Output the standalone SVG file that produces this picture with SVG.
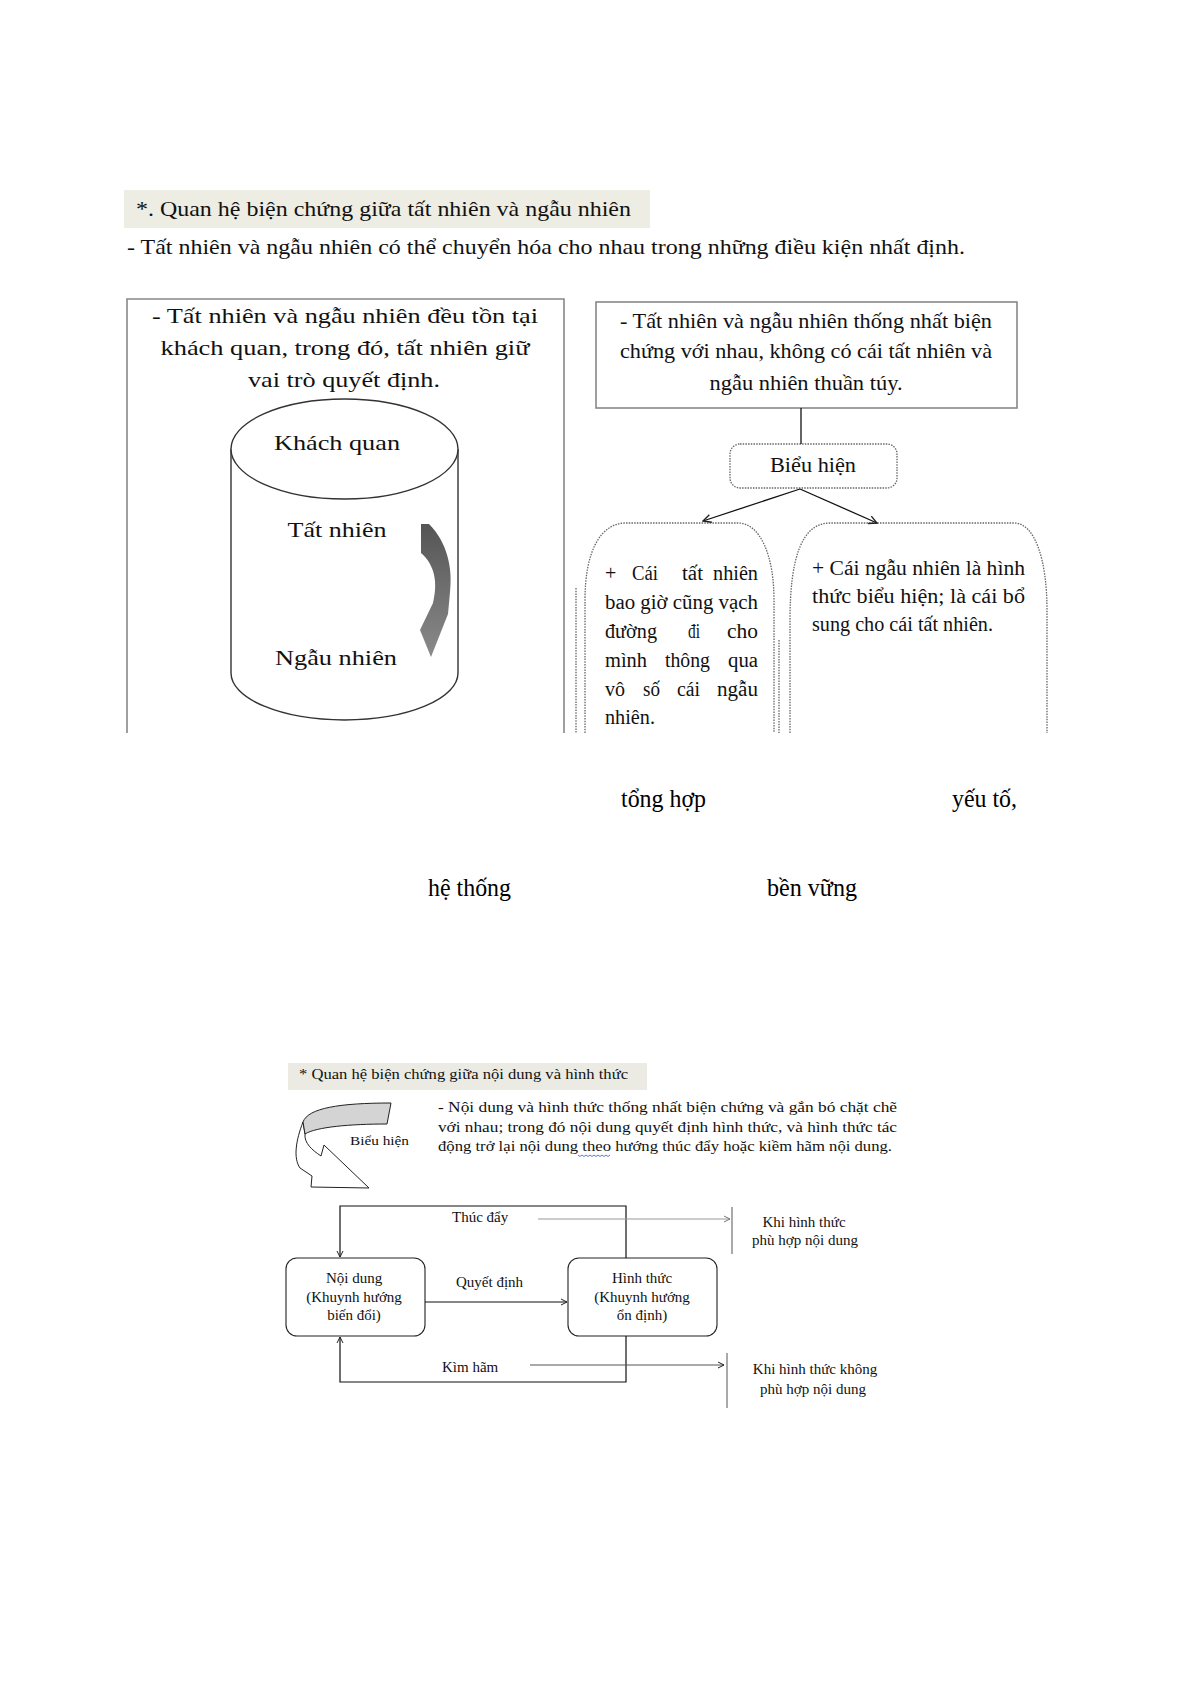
<svg xmlns="http://www.w3.org/2000/svg" width="1193" height="1685" viewBox="0 0 1193 1685">
<style>
  text { font-family: "Liberation Serif", "Times New Roman", serif; fill: #111; }
  .t21 { font-size: 21px; }
  .t22 { font-size: 22px; }
  .t20 { font-size: 20px; }
  .t24 { font-size: 25px; fill: #000; }
  .s15 { font-size: 15px; }
  .s14 { font-size: 14.5px; }
  .s13 { font-size: 13.5px; }
  .mid { text-anchor: middle; }
  .end { text-anchor: end; }
  .box { fill: #fff; stroke: #888; stroke-width: 1.6; }
  .dot { fill: none; stroke: #666; stroke-width: 1.3; stroke-dasharray: 1.5 1.2; }
  .ln { fill: none; stroke: #111; stroke-width: 1.3; }
  .rbox { fill: #fff; stroke: #222; stroke-width: 1.1; }
</style>
<defs>
  <marker id="ah" markerWidth="10" markerHeight="10" refX="9" refY="5" orient="auto" markerUnits="userSpaceOnUse">
    <path d="M1,1 L9,5 L1,9" fill="none" stroke="#222" stroke-width="1.4"/>
  </marker>
  <marker id="ahs" markerWidth="8" markerHeight="8" refX="7" refY="4" orient="auto" markerUnits="userSpaceOnUse">
    <path d="M1,1 L7,4 L1,7" fill="none" stroke="#222" stroke-width="1"/>
  </marker>
  <marker id="ahg" markerWidth="8" markerHeight="8" refX="7" refY="4" orient="auto" markerUnits="userSpaceOnUse">
    <path d="M1,1 L7,4 L1,7" fill="none" stroke="#777" stroke-width="1"/>
  </marker>
  <linearGradient id="curv" x1="0" y1="0" x2="0" y2="1">
    <stop offset="0" stop-color="#555"/>
    <stop offset="1" stop-color="#8a8a8a"/>
  </linearGradient>
</defs>
<rect width="1193" height="1685" fill="#fff"/>

<!-- Top header -->
<g id="header-top">
  <rect x="124" y="190" width="526" height="38" fill="#eeede4"/>
  <text class="t21" x="136" y="216" textLength="495" lengthAdjust="spacingAndGlyphs">*. Quan hệ biện chứng giữa tất nhiên và ngẫu nhiên</text>
  <text class="t21" x="127" y="254" textLength="838" lengthAdjust="spacingAndGlyphs">- Tất nhiên và ngẫu nhiên có thể chuyển hóa cho nhau trong những điều kiện nhất định.</text>
</g>

<!-- Left panel -->
<g id="left-panel">
  <path d="M127,733 L127,299 L564,299 L564,733" class="box"/>
  <text class="t22 mid" x="345" y="323" textLength="386" lengthAdjust="spacingAndGlyphs">- Tất nhiên và ngẫu nhiên đều tồn tại</text>
  <text class="t22 mid" x="345" y="355" textLength="369" lengthAdjust="spacingAndGlyphs">khách quan, trong đó, tất nhiên giữ</text>
  <text class="t22 mid" x="344" y="387" textLength="192" lengthAdjust="spacingAndGlyphs">vai trò quyết định.</text>
</g>

<g id="cylinder">
  <path d="M231,449 L231,673 A113.5,47 0 0 0 458,673 L458,449" fill="#fff" stroke="#333" stroke-width="1.4"/>
  <ellipse cx="344.5" cy="449" rx="113.5" ry="50" fill="#fff" stroke="#333" stroke-width="1.4"/>
  <text class="t22 mid" x="337" y="450" textLength="126" lengthAdjust="spacingAndGlyphs">Khách quan</text>
  <text class="t22 mid" x="337" y="537" textLength="99" lengthAdjust="spacingAndGlyphs">Tất nhiên</text>
  <text class="t22 mid" x="336" y="665" textLength="122" lengthAdjust="spacingAndGlyphs">Ngẫu nhiên</text>
  <path d="M421,524 L429,524 C447,542 453,568 450,592 L448,614 L431,657 L420,630 L433,603 C438,583 435,565 421,553 Z" fill="url(#curv)"/>
</g>

<!-- Right panel -->
<g id="right-top">
  <rect x="596" y="302" width="421" height="106" class="box"/>
  <text class="t22 mid" x="806" y="328" textLength="372" lengthAdjust="spacingAndGlyphs">- Tất nhiên và ngẫu nhiên thống nhất biện</text>
  <text class="t22 mid" x="806" y="358" textLength="372" lengthAdjust="spacingAndGlyphs">chứng với nhau, không có cái tất nhiên và</text>
  <text class="t22 mid" x="806" y="390" textLength="193" lengthAdjust="spacingAndGlyphs">ngẫu nhiên thuần túy.</text>
</g>

<g id="bieu-hien-top">
  <rect x="730" y="444" width="167" height="44" rx="10" class="dot"/>
  <text class="t22 mid" x="813" y="472" textLength="86" lengthAdjust="spacingAndGlyphs">Biểu hiện</text>
</g>

<g id="left-expr">
  <path d="M585,733 L585,600 C585,552 600,523 626,523 L738,523 C760,523 774,555 774,600 L774,733" class="dot"/>
  <path d="M576,588 L576,733" class="dot"/>
  <path d="M779,640 L779,733" class="dot"/>
  <text class="t20" x="605" y="580">+</text>
  <text class="t20" x="632" y="580" textLength="26" lengthAdjust="spacingAndGlyphs">Cái</text>
  <text class="t20" x="682" y="580" textLength="21" lengthAdjust="spacingAndGlyphs">tất</text>
  <text class="t20 end" x="758" y="580" textLength="45" lengthAdjust="spacingAndGlyphs">nhiên</text>
  <text class="t20" x="605" y="609" textLength="153" lengthAdjust="spacingAndGlyphs">bao giờ cũng vạch</text>
  <text class="t20" x="605" y="638" textLength="52" lengthAdjust="spacingAndGlyphs">đường</text>
  <text class="t20" x="688" y="638" textLength="12" lengthAdjust="spacingAndGlyphs">đi</text>
  <text class="t20 end" x="758" y="638" textLength="31" lengthAdjust="spacingAndGlyphs">cho</text>
  <text class="t20" x="605" y="667" textLength="42" lengthAdjust="spacingAndGlyphs">mình</text>
  <text class="t20" x="665" y="667" textLength="45" lengthAdjust="spacingAndGlyphs">thông</text>
  <text class="t20 end" x="758" y="667" textLength="30" lengthAdjust="spacingAndGlyphs">qua</text>
  <text class="t20" x="605" y="696" textLength="20" lengthAdjust="spacingAndGlyphs">vô</text>
  <text class="t20" x="643" y="696" textLength="17" lengthAdjust="spacingAndGlyphs">số</text>
  <text class="t20" x="677" y="696" textLength="23" lengthAdjust="spacingAndGlyphs">cái</text>
  <text class="t20 end" x="758" y="696" textLength="41" lengthAdjust="spacingAndGlyphs">ngẫu</text>
  <text class="t20" x="605" y="724" textLength="50" lengthAdjust="spacingAndGlyphs">nhiên.</text>
</g>

<g id="right-expr">
  <path d="M790,733 L790,620 C790,560 801,523 830,523 L1014,523 C1035,523 1047,560 1047,610 L1047,733" class="dot"/>
  <text class="t20" x="812" y="575" textLength="213" lengthAdjust="spacingAndGlyphs">+ Cái ngẫu nhiên là hình</text>
  <text class="t20" x="812" y="603" textLength="213" lengthAdjust="spacingAndGlyphs">thức biểu hiện; là cái bổ</text>
  <text class="t20" x="812" y="631" textLength="181" lengthAdjust="spacingAndGlyphs">sung cho cái tất nhiên.</text>
</g>

<!-- Middle words -->
<g id="middle-words">
  <text class="t24" x="621" y="807" textLength="85" lengthAdjust="spacingAndGlyphs">tổng hợp</text>
  <text class="t24" x="952" y="807" textLength="65" lengthAdjust="spacingAndGlyphs">yếu tố,</text>
  <text class="t24" x="428" y="896" textLength="83" lengthAdjust="spacingAndGlyphs">hệ thống</text>
  <text class="t24" x="767" y="896" textLength="90" lengthAdjust="spacingAndGlyphs">bền vững</text>
</g>

<!-- Bottom section -->
<g id="header-bottom">
  <rect x="288" y="1063" width="359" height="27" fill="#ecebe3"/>
  <text class="s14" x="299" y="1079" textLength="329" lengthAdjust="spacingAndGlyphs">* Quan hệ biện chứng giữa nội dung và hình thức</text>
</g>

<g id="paragraph">
  <text class="s14" x="438" y="1112" textLength="459" lengthAdjust="spacingAndGlyphs">- Nội dung và hình thức thống nhất biện chứng và gắn bó chặt chẽ</text>
  <text class="s14" x="438" y="1132" textLength="459" lengthAdjust="spacingAndGlyphs">với nhau; trong đó nội dung quyết định hình thức, và hình thức tác</text>
  <text class="s14" x="438" y="1151" textLength="454" lengthAdjust="spacingAndGlyphs">động trở lại nội dung theo hướng thúc đẩy hoặc kiềm hãm nội dung.</text>
  <path d="M578,1155 l2,1.5 l2,-1.5 l2,1.5 l2,-1.5 l2,1.5 l2,-1.5 l2,1.5 l2,-1.5 l2,1.5 l2,-1.5 l2,1.5 l2,-1.5 l2,1.5 l2,-1.5 l2,1.5 l2,-1.5" fill="none" stroke="#3355cc" stroke-width="0.8"/>
</g>

<g id="bieu-hien-arrow">
  <path d="M303,1122 C296,1140 293,1158 300,1168 L312,1176 L311,1187 L369,1188 L324,1145 L321,1156 C312,1150 304,1143 305,1134 Z" fill="#fff" stroke="#222" stroke-width="1"/>
  <path d="M303,1122 C308,1108 340,1103 391,1103 L387,1124 C350,1124 316,1127 305,1134 Z" fill="#d4d4d4" stroke="#222" stroke-width="1"/>
  <text class="s13" x="350" y="1145" textLength="59" lengthAdjust="spacingAndGlyphs">Biểu hiện</text>
</g>

<g id="noi-dung">
  <rect x="286" y="1258" width="139" height="78" rx="11" class="rbox"/>
  <text class="s15 mid" x="354" y="1283">Nội dung</text>
  <text class="s15 mid" x="354" y="1302">(Khuynh hướng</text>
  <text class="s15 mid" x="354" y="1320">biến đổi)</text>
</g>

<g id="hinh-thuc">
  <rect x="568" y="1258" width="149" height="78" rx="11" class="rbox"/>
  <text class="s15 mid" x="642" y="1283">Hình thức</text>
  <text class="s15 mid" x="642" y="1302">(Khuynh hướng</text>
  <text class="s15 mid" x="642" y="1320">ổn định)</text>
</g>

<g id="labels">
  <text class="s15" x="452" y="1222">Thúc đẩy</text>
  <text class="s15" x="456" y="1287">Quyết định</text>
  <text class="s15" x="442" y="1372">Kìm hãm</text>
  <text class="s15 mid" x="804" y="1227">Khi hình thức</text>
  <text class="s15 mid" x="805" y="1245">phù hợp nội dung</text>
  <text class="s15 mid" x="815" y="1374">Khi hình thức không</text>
  <text class="s15 mid" x="813" y="1394">phù hợp nội dung</text>
</g>

<g id="connectors">
  <path d="M801,408 L801,444" class="ln"/>
  <path d="M800,489 L703,521" class="ln" marker-end="url(#ah)"/>
  <path d="M800,489 L877,523" class="ln" marker-end="url(#ah)"/>
  <path d="M425,1302 L567,1302" fill="none" stroke="#111" stroke-width="1.2" marker-end="url(#ahs)"/>
  <path d="M626,1258 L626,1206 L340,1206 L340,1257" fill="none" stroke="#111" stroke-width="1.2" marker-end="url(#ahs)"/>
  <path d="M626,1336 L626,1382 L340,1382 L340,1337" fill="none" stroke="#111" stroke-width="1.2" marker-end="url(#ahs)"/>
  <path d="M538,1219 L730,1219" fill="none" stroke="#999" stroke-width="1" marker-end="url(#ahg)"/>
  <path d="M732,1207 L732,1254" fill="none" stroke="#555" stroke-width="1"/>
  <path d="M530,1365 L724,1365" fill="none" stroke="#555" stroke-width="1" marker-end="url(#ahs)"/>
  <path d="M727,1353 L727,1408" fill="none" stroke="#555" stroke-width="1"/>
</g>
</svg>
